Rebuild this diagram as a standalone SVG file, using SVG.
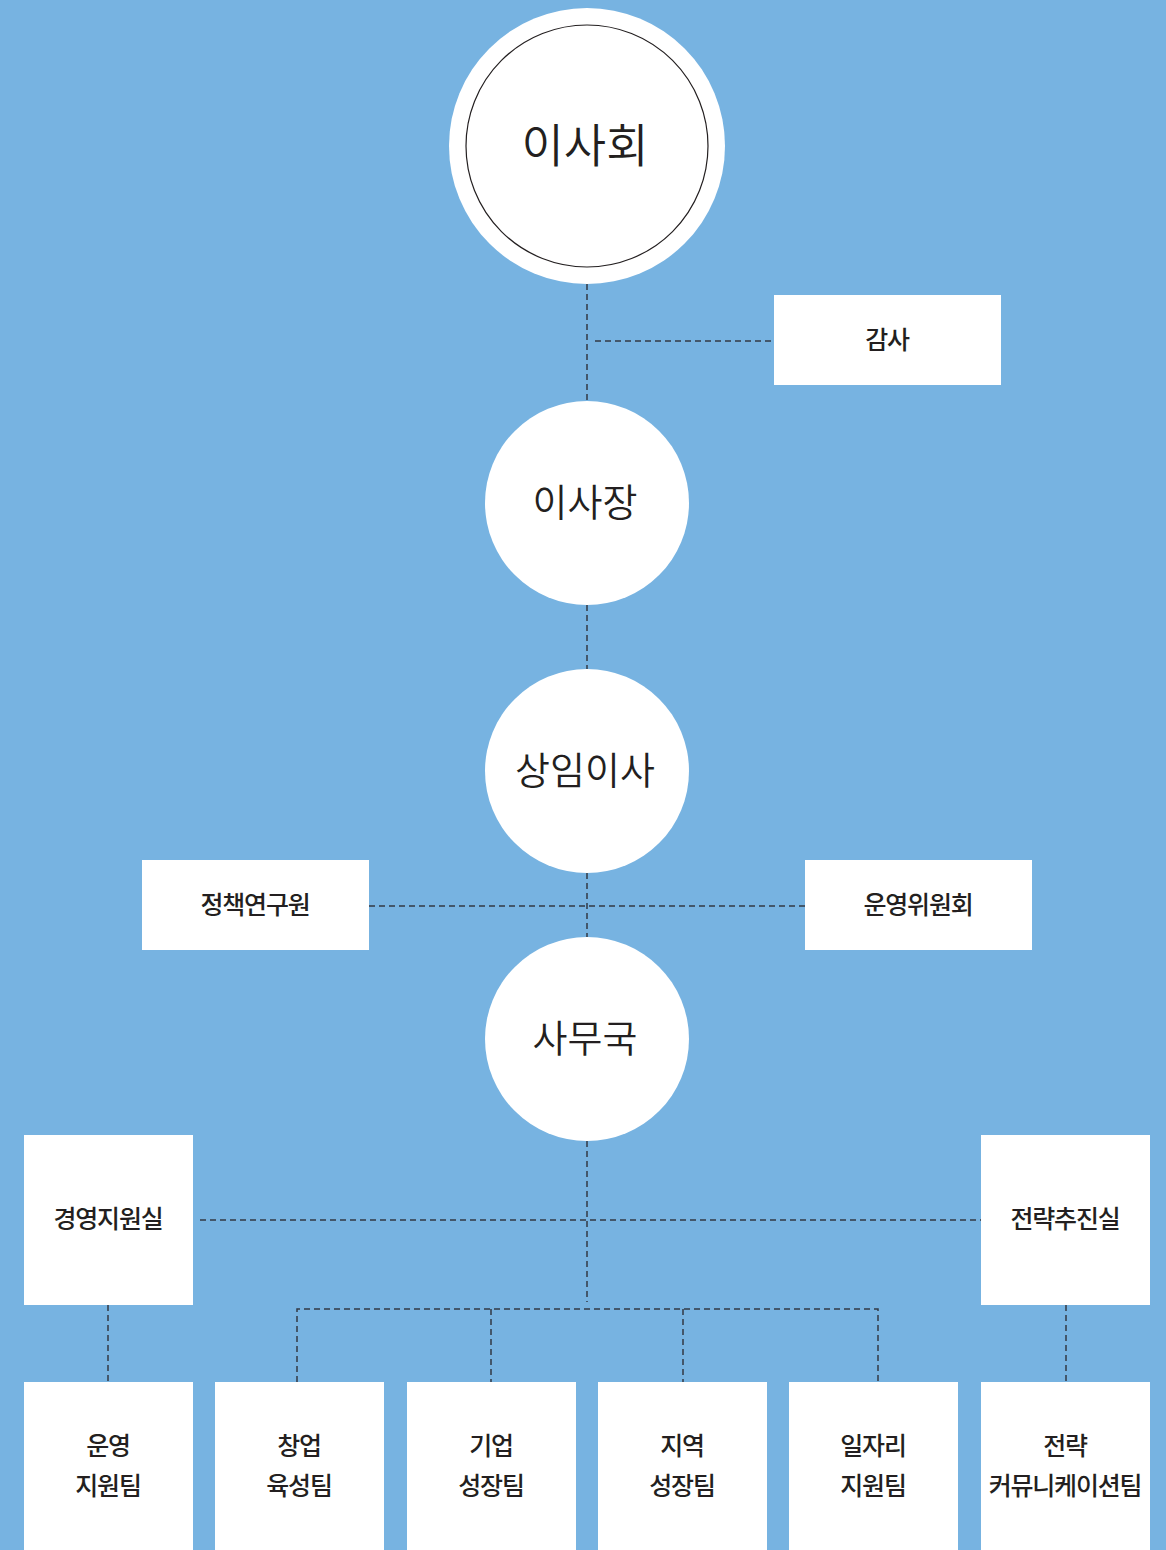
<svg xmlns="http://www.w3.org/2000/svg" width="1166" height="1550" viewBox="0 0 1166 1550">
<style>
.bg{fill:#77b3e1}
.node{fill:#ffffff}
.ring{fill:none;stroke:#231f20;stroke-width:1.2}
.c{stroke:#333a44;stroke-width:1.5;stroke-dasharray:6 4;fill:none}
.big{font-family:"Noto Sans CJK KR","Noto Sans",sans-serif;font-weight:350;fill:#231f20;text-anchor:middle}
.lbl{font-family:"Noto Sans CJK KR","Noto Sans",sans-serif;font-weight:500;font-size:25px;fill:#231f20;text-anchor:middle;letter-spacing:-1.2px}
</style>
<rect class="bg" x="0" y="0" width="1166" height="1550"/>
<g id="connectors">
<line class="c" x1="587" y1="284" x2="587" y2="401"/>
<line class="c" x1="595" y1="341" x2="774" y2="341"/>
<line class="c" x1="587" y1="605" x2="587" y2="669"/>
<line class="c" x1="587" y1="873" x2="587" y2="937"/>
<line class="c" x1="369" y1="906" x2="805" y2="906"/>
<line class="c" x1="587" y1="1141" x2="587" y2="1302"/>
<line class="c" x1="200" y1="1220" x2="981" y2="1220"/>
<path class="c" d="M297 1382 V1309 H878 V1382"/>
<line class="c" x1="491" y1="1309" x2="491" y2="1382"/>
<line class="c" x1="683" y1="1309" x2="683" y2="1382"/>
<line class="c" x1="108" y1="1305" x2="108" y2="1382"/>
<line class="c" x1="1066" y1="1305" x2="1066" y2="1382"/>
</g>
<g id="n-board">
<circle class="node" cx="587" cy="146" r="138"/>
<circle class="ring" cx="587" cy="146" r="121"/>
<text class="big" x="585" y="162" font-size="46">이사회</text>
</g>
<g id="n-audit">
<rect class="node" x="774" y="295" width="227" height="90"/>
<text class="lbl" x="887" y="349">감사</text>
</g>
<g id="n-chair">
<circle class="node" cx="587" cy="503" r="102"/>
<text class="big" x="585" y="516" font-size="38">이사장</text>
</g>
<g id="n-director">
<circle class="node" cx="587" cy="771" r="102"/>
<text class="big" x="585" y="784" font-size="38">상임이사</text>
</g>
<g id="n-policy">
<rect class="node" x="142" y="860" width="227" height="90"/>
<text class="lbl" x="255" y="914">정책연구원</text>
</g>
<g id="n-committee">
<rect class="node" x="805" y="860" width="227" height="90"/>
<text class="lbl" x="918" y="914">운영위원회</text>
</g>
<g id="n-secretariat">
<circle class="node" cx="587" cy="1039" r="102"/>
<text class="big" x="585" y="1052" font-size="38">사무국</text>
</g>
<g id="n-mgmt">
<rect class="node" x="24" y="1135" width="169" height="170"/>
<text class="lbl" x="108" y="1228">경영지원실</text>
</g>
<g id="n-strategy">
<rect class="node" x="981" y="1135" width="169" height="170"/>
<text class="lbl" x="1065" y="1228">전략추진실</text>
</g>
<g id="n-t1">
<rect class="node" x="24" y="1382" width="169" height="168"/>
<text class="lbl" x="108" y="1455">운영</text>
<text class="lbl" x="108" y="1495">지원팀</text>
</g>
<g id="n-t2">
<rect class="node" x="215" y="1382" width="169" height="168"/>
<text class="lbl" x="299" y="1455">창업</text>
<text class="lbl" x="299" y="1495">육성팀</text>
</g>
<g id="n-t3">
<rect class="node" x="407" y="1382" width="169" height="168"/>
<text class="lbl" x="491" y="1455">기업</text>
<text class="lbl" x="491" y="1495">성장팀</text>
</g>
<g id="n-t4">
<rect class="node" x="598" y="1382" width="169" height="168"/>
<text class="lbl" x="682" y="1455">지역</text>
<text class="lbl" x="682" y="1495">성장팀</text>
</g>
<g id="n-t5">
<rect class="node" x="789" y="1382" width="169" height="168"/>
<text class="lbl" x="873" y="1455">일자리</text>
<text class="lbl" x="873" y="1495">지원팀</text>
</g>
<g id="n-t6">
<rect class="node" x="981" y="1382" width="169" height="168"/>
<text class="lbl" x="1065" y="1455">전략</text>
<text class="lbl" x="1065" y="1495">커뮤니케이션팀</text>
</g>
</svg>
